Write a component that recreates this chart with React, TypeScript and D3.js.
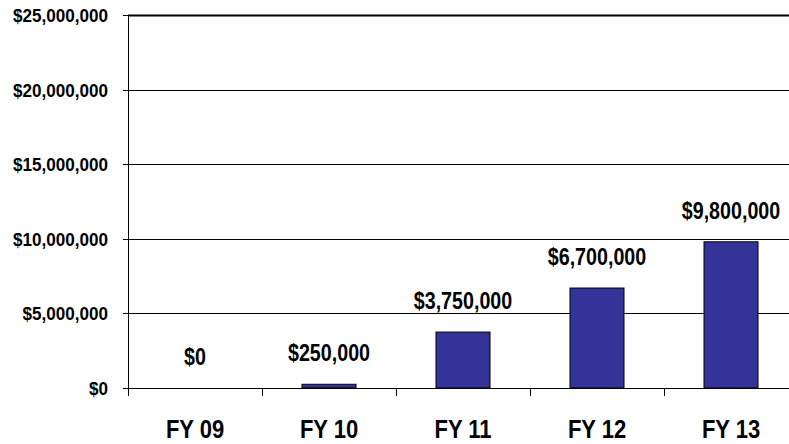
import React from "react";
import * as d3 from "d3";

const categories = ["FY 09", "FY 10", "FY 11", "FY 12", "FY 13"];
const values = [0, 250000, 3750000, 6700000, 9800000];
const valueLabels = ["$0", "$250,000", "$3,750,000", "$6,700,000", "$9,800,000"];
const yTicks = [0, 5000000, 10000000, 15000000, 20000000, 25000000];

const W = 789;
const H = 444;
const left = 128;
const top = 15;
const bottom = 388;
const bandW = 134;

export default function App() {
  const x = d3
    .scaleBand<string>()
    .domain(categories)
    .range([left, left + bandW * categories.length])
    .paddingInner(0)
    .paddingOuter(0);
  const y = d3.scaleLinear().domain([0, 25000000]).range([bottom, top]);
  const fmt = (v: number) => "$" + d3.format(",")(v);
  const barW = 54;
  const font = "'Liberation Sans', Arial, sans-serif";

  return (
    <svg
      width={W}
      height={H}
      style={{ position: "absolute", left: 0, top: 0, display: "block", background: "#fff" }}
    >
      {yTicks.map((t) => (
        <line
          key={"g" + t}
          x1={left}
          x2={W}
          y1={Math.round(y(t)) + 0.5}
          y2={Math.round(y(t)) + 0.5}
          stroke="#000"
          strokeWidth={t === 25000000 ? 2 : 1}
        />
      ))}
      {yTicks.map((t) => (
        <line
          key={"yt" + t}
          x1={left - 5}
          x2={left}
          y1={Math.round(y(t)) + 0.5}
          y2={Math.round(y(t)) + 0.5}
          stroke="#000"
        />
      ))}
      {yTicks.map((t) => (
        <text
          key={"yl" + t}
          transform={`translate(108,${y(t) + 7}) scale(0.95,1)`}
          textAnchor="end"
          fontFamily={font}
          fontWeight="bold"
          fontSize={18}
          fill="#000"
        >
          {fmt(t)}
        </text>
      ))}
      <line x1={left + 0.5} x2={left + 0.5} y1={top} y2={bottom + 1} stroke="#000" />
      {categories.map((c) => (
        <line
          key={"xt" + c}
          x1={Math.round(x(c)!) + 0.5}
          x2={Math.round(x(c)!) + 0.5}
          y1={bottom}
          y2={bottom + 8}
          stroke="#000"
        />
      ))}
      {categories.map((c, i) => {
        const cx = x(c)! + x.bandwidth() / 2;
        const h = bottom - y(values[i]);
        if (values[i] <= 0) return null;
        return (
          <rect
            key={"b" + c}
            x={cx - barW / 2}
            y={y(values[i])}
            width={barW}
            height={h}
            fill="#333399"
            stroke="#000"
            strokeWidth={1}
          />
        );
      })}
      <line x1={left} x2={W} y1={bottom + 0.5} y2={bottom + 0.5} stroke="#000" />
      {categories.map((c, i) => {
        let cx = x(c)! + x.bandwidth() / 2;
        if (cx + 56 > W) cx = W - 64;
        const yy = y(values[i]) - 23;
        return (
          <text
            key={"vl" + c}
            transform={`translate(${cx},${yy}) scale(0.82,1)`}
            textAnchor="middle"
            fontFamily={font}
            fontWeight="bold"
            fontSize={24}
            fill="#000"
          >
            {valueLabels[i]}
          </text>
        );
      })}
      {categories.map((c) => {
        const cx = x(c)! + x.bandwidth() / 2;
        return (
          <text
            key={"cl" + c}
            transform={`translate(${cx},438) scale(0.88,1)`}
            textAnchor="middle"
            fontFamily={font}
            fontWeight="bold"
            fontSize={25}
            fill="#000"
          >
            {c}
          </text>
        );
      })}
    </svg>
  );
}
